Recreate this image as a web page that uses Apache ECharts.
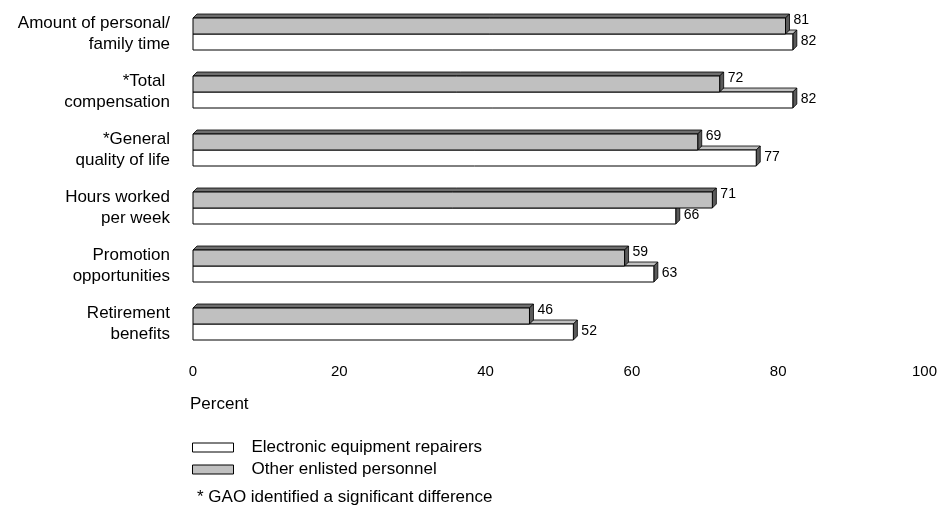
<!DOCTYPE html>
<html><head><meta charset="utf-8">
<script src="https://cdn.jsdelivr.net/npm/echarts@6/dist/echarts.min.js"></script>
<style>html,body{margin:0;padding:0;background:#fff}#c{width:940px;height:506px}</style>
</head><body><div id="c"></div>
<script>
var categories = ["Amount of personal/\nfamily time", "*Total \ncompensation", "*General\nquality of life", "Hours worked\nper week", "Promotion\nopportunities", "Retirement\nbenefits"];
var repairers = [82, 82, 77, 66, 63, 52];
var otherEnlisted = [81, 72, 69, 71, 59, 46];
var xTicks = [0, 20, 40, 60, 80, 100];
var seriesNames = ["Electronic equipment repairers", "Other enlisted personnel"];

var FONT = "Liberation Sans, Arial, sans-serif";
function makeRender(isGray) {
  return function (params, api) {
    var v = api.value(0), c = api.value(1);
    var p0 = api.coord([0, c]);
    var p1 = api.coord([v, c]);
    var h = 16, d = 4;
    var x0 = p0[0], x1 = p1[0];
    var yc = p0[1];
    var y0 = isGray ? yc - h : yc;
    var frontCol = isGray ? '#c0c0c0' : '#ffffff';
    var topCol = isGray ? '#6e6e6e' : '#c0c0c0';
    var sideCol = '#5a5a5a';
    return {
      type: 'group',
      children: [
        {type: 'polygon', shape: {points: [[x0, y0], [x0 + d, y0 - d], [x1 + d, y0 - d], [x1, y0]]},
         style: {fill: topCol, stroke: '#000', lineWidth: 0.8}},
        {type: 'polygon', shape: {points: [[x1, y0], [x1 + d, y0 - d], [x1 + d, y0 + h - d], [x1, y0 + h]]},
         style: {fill: sideCol, stroke: '#000', lineWidth: 0.8}},
        {type: 'rect', shape: {x: x0, y: y0, width: x1 - x0, height: h},
         style: {fill: frontCol, stroke: '#000', lineWidth: 1}},
        {type: 'text', style: {text: String(v), x: x1 + d + 4, y: isGray ? yc - 13.5 : yc + 7.5,
          verticalAlign: 'middle', align: 'left', fill: '#000', font: '14px ' + FONT}}
      ]
    };
  };
}
function toData(arr) { return arr.map(function (v, i) { return [v, i]; }); }

var chart = echarts.init(document.getElementById('c'), null, {renderer: 'canvas'});
chart.setOption({
  animation: false,
  backgroundColor: '#fff',
  textStyle: {fontFamily: FONT},
  grid: {left: 193, right: 15, top: 5, height: 348},
  xAxis: {
    type: 'value', min: 0, max: 100, interval: 20,
    axisLine: {show: false}, axisTick: {show: false}, splitLine: {show: false},
    axisLabel: {fontSize: 15, color: '#000', margin: 11, fontFamily: FONT,
      formatter: function (v) { return xTicks.indexOf(v) >= 0 ? String(v) : ''; }}
  },
  yAxis: {
    type: 'category', data: categories, inverse: true,
    axisLine: {show: false}, axisTick: {show: false},
    axisLabel: {fontSize: 17, lineHeight: 21, color: '#000', margin: 23, align: 'right', fontFamily: FONT}
  },
  legend: {
    orient: 'vertical', left: 187, top: 434, icon: 'rect', itemWidth: 41, itemHeight: 9, itemGap: 5,
    textStyle: {fontSize: 17, color: '#000', fontFamily: FONT, padding: [0, 0, 0, 13], lineHeight: 17},
    data: [
      {name: seriesNames[0], itemStyle: {color: '#ffffff', borderColor: '#000', borderWidth: 1}},
      {name: seriesNames[1], itemStyle: {color: '#c0c0c0', borderColor: '#000', borderWidth: 1}}
    ]
  },
  graphic: [
    {type: 'text', left: 190, top: 396, style: {text: 'Percent', font: '17px ' + FONT, fill: '#000'}},
    {type: 'text', left: 197, top: 489, style: {text: '* GAO identified a significant difference', font: '17px ' + FONT, fill: '#000'}}
  ],
  series: [
    {name: seriesNames[0], type: 'custom', z: 2, renderItem: makeRender(false), data: toData(repairers),
     itemStyle: {color: '#ffffff', borderColor: '#000'}, encode: {x: 0, y: 1}},
    {name: seriesNames[1], type: 'custom', z: 3, renderItem: makeRender(true), data: toData(otherEnlisted),
     itemStyle: {color: '#c0c0c0', borderColor: '#000'}, encode: {x: 0, y: 1}}
  ]
});
</script></body></html>
